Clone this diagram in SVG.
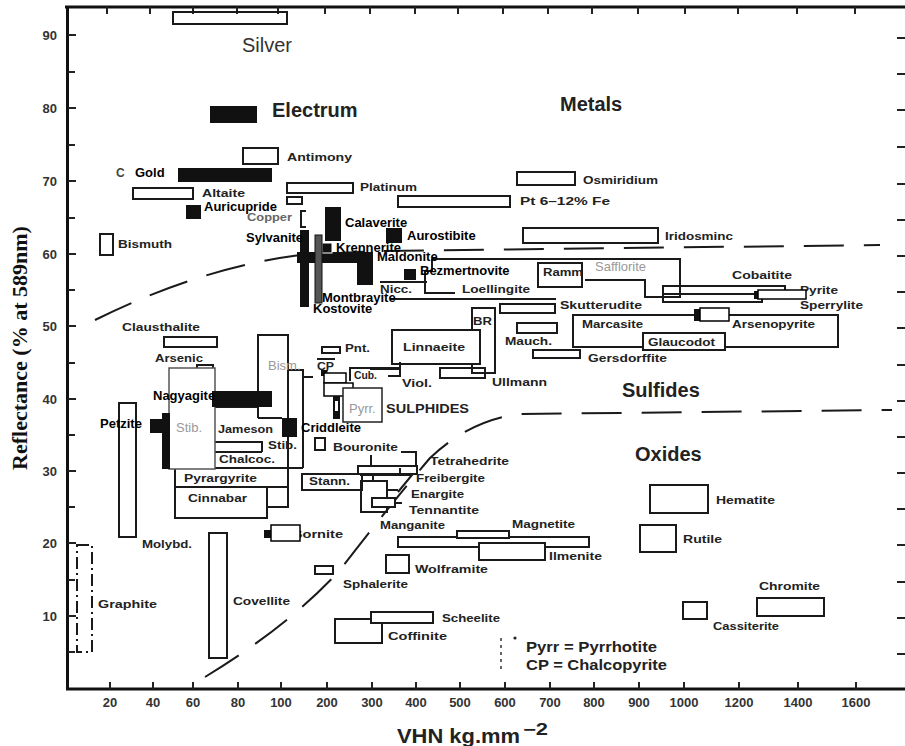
<svg xmlns="http://www.w3.org/2000/svg" width="905" height="746" viewBox="0 0 905 746">
<style>
.bx{fill:none;stroke:#1a1a1a;stroke-width:2}
.wb{fill:#fff;stroke:#1a1a1a;stroke-width:2}
.ov{fill:#fff;stroke:#000;stroke-width:1.5}
.blk{fill:#111}
.s{font-family:"Liberation Sans",Arial,sans-serif;font-weight:bold;font-size:11.5px;fill:#222}
.o{font-family:"Liberation Sans",Arial,sans-serif;font-weight:bold;font-size:13px;fill:#000}
.g{font-family:"Liberation Sans",Arial,sans-serif;font-size:13px;fill:#999}
.h{font-family:"Liberation Sans",Arial,sans-serif;font-weight:bold;font-size:20px;fill:#222}
.ax{font-family:"Liberation Sans",Arial,sans-serif;font-weight:bold;font-size:13px;fill:#333}
.tk{stroke:#222;stroke-width:2;fill:none}
.dash{fill:none;stroke:#1a1a1a;stroke-width:2;stroke-dasharray:40 20}
</style>
<rect width="905" height="746" fill="#fff"/>

<g id="axes">
  <path d="M65,7 H905 M67.5,6 V690 M66,689 H905" stroke="#111" stroke-width="3" fill="none"/>
  <path class="tk" d="M110,689 V682 M153,689 V682 M193,689 V682 M238,689 V682 M281,689 V682 M327,689 V682 M372,689 V682 M416,689 V682 M460,689 V682 M505,689 V682 M550,689 V682 M594,689 V682 M639,689 V682 M684,689 V682 M739,689 V682 M798,689 V682 M856,689 V682"/>
  <path class="tk" d="M107,7 V14 M150,7 V14 M193,7 V14 M237,7 V14 M278,7 V14 M325,7 V14 M370,7 V14 M415,7 V14 M458,7 V14 M503,7 V14 M548,7 V14 M592,7 V14 M638,7 V14 M685,7 V14 M738,7 V14 M797,7 V14 M855,7 V14"/>
  <path class="tk" d="M68,35 H76 M68,72 H75 M68,108 H76 M68,145 H75 M68,181 H76 M68,218 H75 M68,254 H76 M68,290 H75 M68,326 H76 M68,363 H75 M68,399 H76 M68,435 H75 M68,471 H76 M68,507 H75 M68,543 H76 M68,580 H75 M68,616 H76 M68,652 H75"/>
  <path class="tk" d="M897,38 H905 M897,74 H905 M897,110 H905 M897,147 H905 M897,184 H905 M897,220 H905 M897,256 H905 M897,292 H905 M897,328 H905 M897,365 H905 M897,401 H905 M897,437 H905 M897,473 H905 M897,509 H905 M897,545 H905 M897,582 H905 M897,618 H905 M897,654 H905"/>
  <g class="ax" text-anchor="end">
    <text x="57" y="40">90</text><text x="57" y="113">80</text><text x="57" y="186">70</text>
    <text x="57" y="259">60</text><text x="57" y="331">50</text><text x="57" y="404">40</text>
    <text x="57" y="476">30</text><text x="57" y="548">20</text><text x="57" y="621">10</text>
  </g>
  <g class="ax" text-anchor="middle">
    <text x="110" y="707">20</text><text x="153" y="707">40</text><text x="193" y="707">60</text>
    <text x="238" y="707">80</text><text x="281" y="707">100</text><text x="327" y="707">200</text>
    <text x="372" y="707">300</text><text x="416" y="707">400</text><text x="460" y="707">500</text>
    <text x="505" y="707">600</text><text x="550" y="707">700</text><text x="594" y="707">800</text>
    <text x="639" y="707">900</text><text x="684" y="707">1000</text><text x="739" y="707">1200</text>
    <text x="798" y="707">1400</text><text x="856" y="707">1600</text>
  </g>
  <text x="397" y="743" font-family="Liberation Sans, Arial, sans-serif" font-weight="bold" font-size="21" fill="#222" textLength="123" lengthAdjust="spacingAndGlyphs">VHN kg.mm</text>
  <text x="523" y="735" font-family="Liberation Sans, Arial, sans-serif" font-weight="bold" font-size="16" fill="#222" textLength="25" lengthAdjust="spacingAndGlyphs">−2</text>
  <text transform="translate(27,348) rotate(-90)" text-anchor="middle" font-family="Liberation Serif, Times New Roman, serif" font-weight="bold" font-size="22" fill="#111">Reflectance (% at 589nm)</text>
</g>

<g id="boundaries">
  <path class="dash" d="M95,320 Q200,268 300,255 L380,251 L880,245"/>
  <path class="dash" d="M205,677 Q290,625 340,570 Q390,505 430,458 Q470,420 520,414 L892,410" stroke-dasharray="45 20"/>
</g>

<g id="ore-boxes">
  <rect class="bx" x="173" y="12" width="114" height="12"/>
  <rect class="bx" x="243" y="148" width="35" height="16"/>
  <rect class="bx" x="133" y="188" width="60" height="11"/>
  <rect class="bx" x="287" y="197" width="15" height="7"/>
  <path class="bx" d="M306,211 H301 V227 H306"/>
  <rect class="bx" x="287" y="183" width="66" height="10"/>
  <rect class="bx" x="398" y="196" width="112" height="11"/>
  <rect class="bx" x="517" y="172" width="58" height="13"/>
  <rect class="bx" x="523" y="228" width="135" height="15"/>
  <rect class="bx" x="100" y="234" width="13" height="21"/>
  <rect class="bx" x="164" y="337" width="53" height="10"/>
  <rect class="bx" x="197" y="365" width="16" height="8"/>
  <path class="bx" d="M380,282 H427 M390,299 H556"/>
  <path class="bx" d="M432,259 H680 V297 H645 V280 H585"/>
  <path class="bx" d="M432,259 V271 H425 V293 H455"/>
  <rect class="bx" x="538" y="263" width="44" height="24"/>
  <rect class="bx" x="500" y="304" width="55" height="9"/>
  <rect class="bx" x="663" y="286" width="122" height="8"/>
  <rect class="bx" x="663" y="294" width="99" height="8"/>
  <rect class="bx" x="573" y="315" width="265" height="32"/>
  <rect class="wb" x="643" y="333" width="82" height="17"/>
  <rect class="bx" x="517" y="323" width="40" height="10"/>
  <rect class="bx" x="533" y="350" width="47" height="8"/>
  <rect class="bx" x="472" y="308" width="23" height="65"/>
  <rect class="bx" x="440" y="368" width="45" height="10"/>
  <rect class="wb" x="392" y="330" width="88" height="34"/>
  <path class="bx" d="M370,369 H400 V362"/>
  <path class="bx" d="M350,381 V368 H400 V376 H388"/>
  <rect class="bx" x="322" y="347" width="18" height="6"/>
  <path class="bx" d="M317,359 H335"/>
  <path class="blk" d="M321,370 L328,370 L326,376 L321,376 Z"/>
  <path class="bx" d="M258,418 V335 H288 V507 H268 M288,370 H303 V468 M303,377 H313 M258,418 H282"/>
  <path class="bx" d="M215,407 H258 M215,442 H262 V452 M215,452 H262"/>
  <path class="bx" d="M175,468 H303 M175,468 V518 H267 V487 H175 M175,487 H288"/>
  <rect class="bx" x="119" y="403" width="17" height="134"/>
  <rect class="bx" x="209" y="533" width="18" height="125"/>
  <rect class="bx" x="77" y="545" width="15" height="107" stroke-dasharray="12 4 2 4"/>
  <rect class="bx" x="302" y="474" width="60" height="16"/>
  <rect class="bx" x="315" y="438" width="10" height="12"/>
  <path class="bx" d="M401,452 H416 V467 M371,455 V466 M400,468 V474 M373,475 V481 M387,490 H398 M395,503 H402"/>
  <rect class="bx" x="358" y="466" width="59" height="8"/>
  <path class="bx" d="M360,475 H412 L398,492"/>
  <rect class="bx" x="361" y="481" width="26" height="31"/>
  <rect class="wb" x="372" y="498" width="23" height="9"/>
  <rect class="bx" x="398" y="537" width="191" height="10"/>
  <rect class="wb" x="457" y="531" width="52" height="7"/>
  <rect class="wb" x="479" y="543" width="66" height="17"/>
  <rect class="bx" x="386" y="555" width="23" height="18"/>
  <rect class="bx" x="315" y="566" width="18" height="8"/>
  <rect class="bx" x="335" y="619" width="47" height="24"/>
  <rect class="wb" x="371" y="612" width="62" height="11"/>
  <rect class="bx" x="650" y="485" width="58" height="28"/>
  <rect class="bx" x="640" y="525" width="36" height="27"/>
  <rect class="bx" x="683" y="602" width="24" height="17"/>
  <rect class="bx" x="757" y="598" width="67" height="18"/>
  <path d="M501,638 V673" stroke="#333" stroke-width="1.5" stroke-dasharray="3 4"/>
  <circle cx="515" cy="638" r="1.6" fill="#222"/>
</g>

<g id="section-labels">
  <text class="h" x="560" y="111">Metals</text>
  <text class="h" x="272" y="117">Electrum</text>
  <text class="h" x="622" y="397">Sulfides</text>
  <text class="h" x="635" y="461">Oxides</text>
  <text x="242" y="52" font-family="Liberation Sans, Arial, sans-serif" font-size="20" fill="#333">Silver</text>
</g>

<g id="mineral-labels" lengthAdjust="spacingAndGlyphs">
  <text class="s" x="287" y="161" textLength="65" lengthAdjust="spacingAndGlyphs">Antimony</text>
  <text class="s" x="202" y="197" textLength="43" lengthAdjust="spacingAndGlyphs">Altaite</text>
  <text class="s" x="247" y="221" textLength="45" lengthAdjust="spacingAndGlyphs" style="fill:#666">Copper</text>
  <text class="s" x="360" y="191" textLength="57" lengthAdjust="spacingAndGlyphs">Platinum</text>
  <text class="s" x="520" y="205" textLength="90" lengthAdjust="spacingAndGlyphs">Pt 6–12% Fe</text>
  <text class="s" x="583" y="184" textLength="75" lengthAdjust="spacingAndGlyphs">Osmiridium</text>
  <text class="s" x="665" y="240" textLength="68" lengthAdjust="spacingAndGlyphs">Iridosminc</text>
  <text class="s" x="118" y="248" textLength="54" lengthAdjust="spacingAndGlyphs">Bismuth</text>
  <text class="s" x="122" y="331" textLength="78" lengthAdjust="spacingAndGlyphs">Clausthalite</text>
  <text class="s" x="155" y="362" textLength="48" lengthAdjust="spacingAndGlyphs">Arsenic</text>
  <text class="s" x="380" y="293" textLength="32" lengthAdjust="spacingAndGlyphs">Nicc.</text>
  <text class="s" x="462" y="293" textLength="68" lengthAdjust="spacingAndGlyphs">Loellingite</text>
  <text class="s" x="543" y="276" textLength="40" lengthAdjust="spacingAndGlyphs">Ramm</text>
  <text class="s" x="732" y="279" textLength="60" lengthAdjust="spacingAndGlyphs">Cobaitite</text>
  <text class="s" x="800" y="294" textLength="38" lengthAdjust="spacingAndGlyphs">Pyrite</text>
  <text class="s" x="800" y="309" textLength="63" lengthAdjust="spacingAndGlyphs">Sperrylite</text>
  <text class="s" x="560" y="309" textLength="82" lengthAdjust="spacingAndGlyphs">Skutterudite</text>
  <text class="s" x="582" y="328" textLength="61" lengthAdjust="spacingAndGlyphs">Marcasite</text>
  <text class="s" x="732" y="328" textLength="83" lengthAdjust="spacingAndGlyphs">Arsenopyrite</text>
  <text class="s" x="648" y="346" textLength="67" lengthAdjust="spacingAndGlyphs">Glaucodot</text>
  <text class="s" x="505" y="345" textLength="47" lengthAdjust="spacingAndGlyphs">Mauch.</text>
  <text class="s" x="588" y="362" textLength="79" lengthAdjust="spacingAndGlyphs">Gersdorffite</text>
  <text class="s" x="473" y="325" textLength="19" lengthAdjust="spacingAndGlyphs">BR</text>
  <text class="s" x="403" y="351" textLength="62" lengthAdjust="spacingAndGlyphs">Linnaeite</text>
  <text class="s" x="492" y="386" textLength="55" lengthAdjust="spacingAndGlyphs">Ullmann</text>
  <text class="s" x="402" y="387" textLength="30" lengthAdjust="spacingAndGlyphs">Viol.</text>
  <text class="s" x="354" y="379" textLength="23" lengthAdjust="spacingAndGlyphs">Cub.</text>
  <text class="s" x="345" y="352" textLength="25" lengthAdjust="spacingAndGlyphs">Pnt.</text>
  <text class="s" x="317" y="370" textLength="17" lengthAdjust="spacingAndGlyphs">CP</text>
  <text class="s" x="386" y="413" textLength="83" lengthAdjust="spacingAndGlyphs" style="font-size:13px">SULPHIDES</text>
  <text class="s" x="218" y="433" textLength="55" lengthAdjust="spacingAndGlyphs">Jameson</text>
  <text class="s" x="268" y="449" textLength="29" lengthAdjust="spacingAndGlyphs">Stib.</text>
  <text class="s" x="219" y="463" textLength="56" lengthAdjust="spacingAndGlyphs">Chalcoc.</text>
  <text class="s" x="184" y="482" textLength="73" lengthAdjust="spacingAndGlyphs">Pyrargyrite</text>
  <text class="s" x="188" y="502" textLength="59" lengthAdjust="spacingAndGlyphs">Cinnabar</text>
  <text class="s" x="142" y="548" textLength="50" lengthAdjust="spacingAndGlyphs">Molybd.</text>
  <text class="s" x="292" y="538" textLength="51" lengthAdjust="spacingAndGlyphs">Bornite</text>
  <text class="s" x="309" y="485" textLength="41" lengthAdjust="spacingAndGlyphs">Stann.</text>
  <text class="s" x="333" y="451" textLength="65" lengthAdjust="spacingAndGlyphs">Bouronite</text>
  <text class="s" x="430" y="465" textLength="79" lengthAdjust="spacingAndGlyphs">Tetrahedrite</text>
  <text class="s" x="416" y="482" textLength="69" lengthAdjust="spacingAndGlyphs">Freibergite</text>
  <text class="s" x="411" y="498" textLength="53" lengthAdjust="spacingAndGlyphs">Enargite</text>
  <text class="s" x="409" y="514" textLength="70" lengthAdjust="spacingAndGlyphs">Tennantite</text>
  <text class="s" x="380" y="529" textLength="65" lengthAdjust="spacingAndGlyphs">Manganite</text>
  <text class="s" x="512" y="528" textLength="63" lengthAdjust="spacingAndGlyphs">Magnetite</text>
  <text class="s" x="549" y="560" textLength="53" lengthAdjust="spacingAndGlyphs">Ilmenite</text>
  <text class="s" x="415" y="573" textLength="73" lengthAdjust="spacingAndGlyphs">Wolframite</text>
  <text class="s" x="343" y="588" textLength="65" lengthAdjust="spacingAndGlyphs">Sphalerite</text>
  <text class="s" x="442" y="622" textLength="58" lengthAdjust="spacingAndGlyphs">Scheelite</text>
  <text class="s" x="388" y="640" textLength="59" lengthAdjust="spacingAndGlyphs">Coffinite</text>
  <text class="s" x="233" y="605" textLength="57" lengthAdjust="spacingAndGlyphs">Covellite</text>
  <text class="s" x="98" y="608" textLength="59" lengthAdjust="spacingAndGlyphs">Graphite</text>
  <text class="s" x="716" y="504" textLength="59" lengthAdjust="spacingAndGlyphs">Hematite</text>
  <text class="s" x="683" y="543" textLength="39" lengthAdjust="spacingAndGlyphs">Rutile</text>
  <text class="s" x="759" y="590" textLength="61" lengthAdjust="spacingAndGlyphs">Chromite</text>
  <text class="s" x="713" y="630" textLength="66" lengthAdjust="spacingAndGlyphs">Cassiterite</text>
  <text class="s" x="526" y="652" textLength="131" lengthAdjust="spacingAndGlyphs" style="font-size:14px">Pyrr = Pyrrhotite</text>
  <text class="s" x="526" y="670" textLength="141" lengthAdjust="spacingAndGlyphs" style="font-size:14px">CP = Chalcopyrite</text>
  <text class="s" x="116" y="177" style="font-size:12px;fill:#444">C</text>
</g>

<g id="overlays">
  <rect class="blk" x="210" y="106" width="47" height="17"/>
  <rect class="blk" x="178" y="168" width="94" height="14"/>
  <rect class="blk" x="186" y="205" width="15" height="14"/>
  <rect class="blk" x="325" y="207" width="16" height="34"/>
  <rect class="blk" x="386" y="228" width="16" height="15"/>
  <rect class="blk" x="300" y="230" width="9" height="77"/>
  <rect class="blk" x="297" y="252" width="76" height="11"/>
  <rect class="blk" x="357" y="252" width="16" height="33"/>
  <rect x="322" y="243" width="10" height="10" fill="#111" stroke="#fff" stroke-width="1"/>
  <rect x="315" y="235" width="7" height="68" fill="#555" stroke="#111" stroke-width="1"/>
  <rect class="blk" x="404" y="269" width="12" height="11"/>
  <rect class="blk" x="754" y="291" width="6" height="8"/>
  <rect class="ov" x="758" y="290" width="48" height="9"/>
  <rect class="blk" x="694" y="309" width="8" height="12"/>
  <rect class="ov" x="700" y="308" width="29" height="13"/>
  <rect class="ov" x="324" y="373" width="22" height="10"/>
  <rect class="ov" x="324" y="383" width="29" height="13"/>
  <rect class="blk" x="333" y="396" width="7" height="23"/>
  <rect x="335" y="401" width="3" height="10" fill="#fff"/>
  <rect x="343" y="388" width="39" height="34" fill="#fff" stroke="#222" stroke-width="1.5"/>
  <rect x="169" y="368" width="46" height="101" fill="#fff" stroke="#555" stroke-width="1.5"/>
  <rect class="blk" x="150" y="419" width="20" height="14"/>
  <rect class="blk" x="162" y="413" width="8" height="56"/>
  <rect class="blk" x="212" y="391" width="60" height="16"/>
  <rect class="blk" x="282" y="418" width="15" height="19"/>
  <rect class="blk" x="264" y="530" width="8" height="8"/>
  <rect class="ov" x="271" y="525" width="29" height="16"/>
</g>

<g id="overlay-labels">
  <text class="o" x="135" y="177">Gold</text>
  <text class="o" x="204" y="211">Auricupride</text>
  <text class="o" x="345" y="227">Calaverite</text>
  <text class="o" x="246" y="242">Sylvanite</text>
  <text class="o" x="336" y="252">Krennerite</text>
  <text class="o" x="407" y="240">Aurostibite</text>
  <text class="o" x="377" y="261">Maldonite</text>
  <text class="o" x="420" y="275">Bezmertnovite</text>
  <text class="o" x="322" y="302">Montbrayite</text>
  <text class="o" x="313" y="313">Kostovite</text>
  <text class="o" x="153" y="400">Nagyagite</text>
  <text class="o" x="100" y="428">Petzite</text>
  <text class="o" x="301" y="432">Criddleite</text>
  <text class="g" x="595" y="271">Safflorite</text>
  <text class="g" x="268" y="370">Bism.</text>
  <text class="g" x="176" y="432">Stib.</text>
  <text class="g" x="349" y="413">Pyrr.</text>
</g>
</svg>
